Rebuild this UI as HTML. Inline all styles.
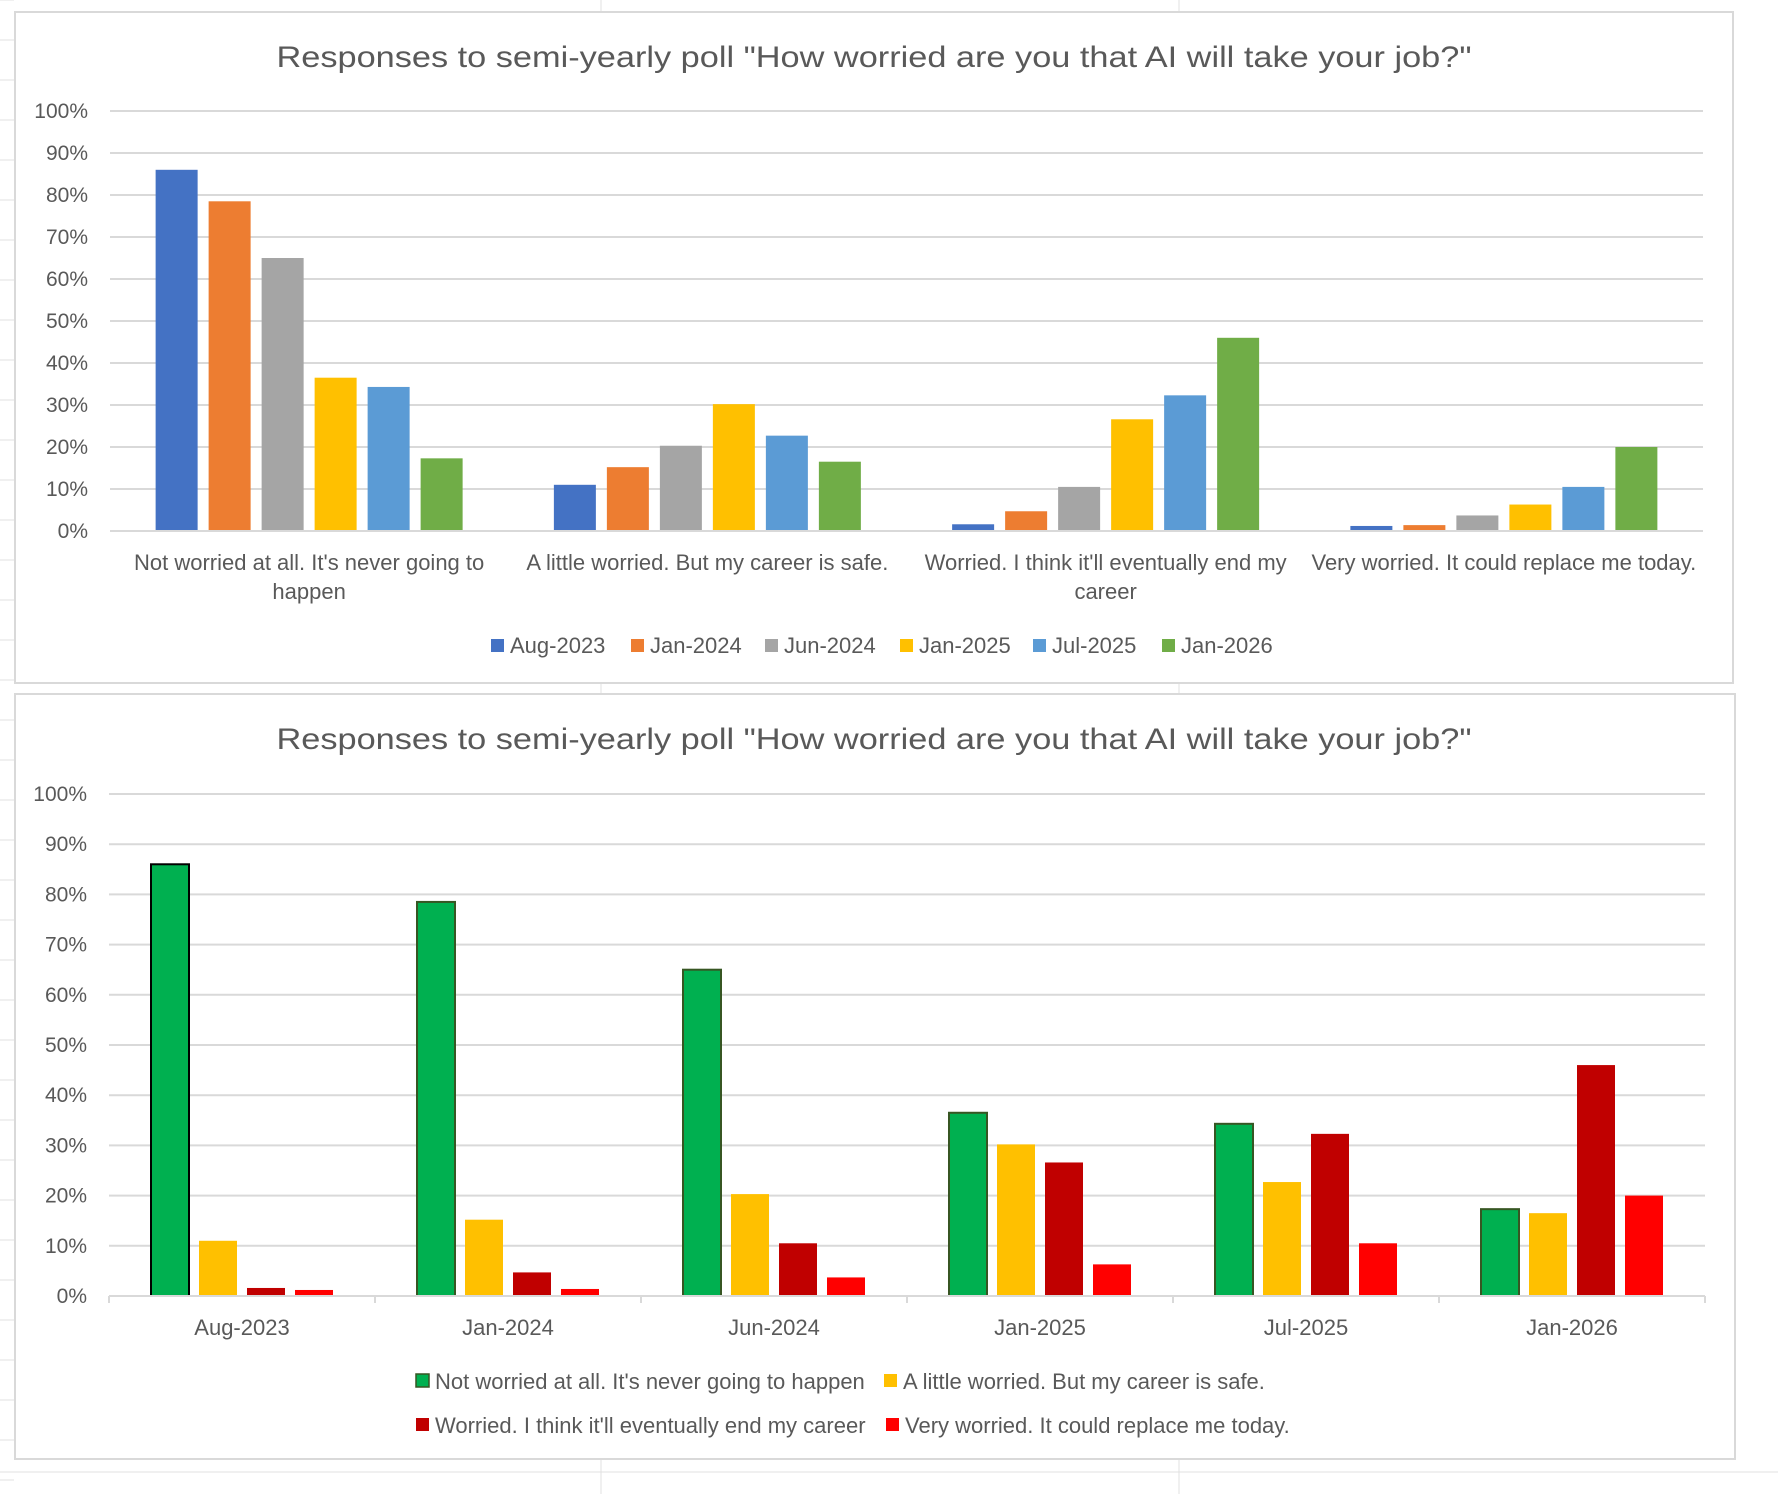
<!DOCTYPE html>
<html><head><meta charset="utf-8"><style>
html,body{margin:0;padding:0;background:#fff;}
svg{display:block;font-family:"Liberation Sans",sans-serif;}
</style></head><body>
<svg id="s" width="1778" height="1494" viewBox="0 0 1778 1494" xmlns="http://www.w3.org/2000/svg">
<g id="bg"></g>
<rect x="15" y="12" width="1718" height="671" fill="#fff" stroke="#d9d9d9" stroke-width="2"/>
<rect x="15" y="694" width="1720" height="765" fill="#fff" stroke="#d9d9d9" stroke-width="2"/>
<text x="874" y="67" text-anchor="middle" font-size="30" fill="#595959" textLength="1195" lengthAdjust="spacingAndGlyphs">Responses to semi-yearly poll "How worried are you that AI will take your job?"</text>
<text x="874" y="749" text-anchor="middle" font-size="30" fill="#595959" textLength="1195" lengthAdjust="spacingAndGlyphs">Responses to semi-yearly poll "How worried are you that AI will take your job?"</text>
<g id="c1"></g><g id="c2"></g>
</svg>
<script>
const periods = ["Aug-2023","Jan-2024","Jun-2024","Jan-2025","Jul-2025","Jan-2026"];
const answers = ["Not worried at all. It's never going to happen","A little worried. But my career is safe.","Worried. I think it'll eventually end my career","Very worried. It could replace me today."];
const answerLines = [["Not worried at all. It's never going to","happen"],["A little worried. But my career is safe."],["Worried. I think it'll eventually end my","career"],["Very worried. It could replace me today."]];
const notWorried = [86, 78.5, 65, 36.5, 34.3, 17.3];
const littleWorried = [11, 15.2, 20.3, 30.2, 22.7, 16.5];
const worried = [1.6, 4.7, 10.5, 26.6, 32.3, 46];
const veryWorried = [1.2, 1.4, 3.7, 6.3, 10.5, 20];
const yTicks = [0,10,20,30,40,50,60,70,80,90,100];
const yTickLabels = ["0%","10%","20%","30%","40%","50%","60%","70%","80%","90%","100%"];
const series = [notWorried, littleWorried, worried, veryWorried];
const periodColors = ["#4472c4","#ed7d31","#a5a5a5","#ffc000","#5b9bd5","#70ad47"];
const answerColors = ["#00b050","#ffc000","#c00000","#ff0000"];
const NS="http://www.w3.org/2000/svg";
function mk(p,tag,attrs){const e=document.createElementNS(NS,tag);for(const k in attrs)e.setAttribute(k,attrs[k]);p.appendChild(e);return e;}
const bg=document.getElementById('bg');
[601,1179].forEach(x=>{const l=mk(bg,'line',{x1:x,y1:0,x2:x,y2:1494,stroke:'#e1e1e1','stroke-width':1});

});
for(let y=0;y<1494;y+=40){const l=mk(bg,'line',{x1:0,y1:y,x2:14,y2:y,stroke:'#e1e1e1','stroke-width':1});

}
[1472].forEach(y=>{const l=mk(bg,'line',{x1:0,y1:y,x2:1778,y2:y,stroke:'#e1e1e1','stroke-width':1});

});

function axes(g,left,right,top,bottom,prefix){
  const ys=v=>bottom-(v/100)*(bottom-top);
  yTicks.forEach((v,i)=>{
    const l=mk(g,'line',{x1:left,x2:right,y1:ys(v),y2:ys(v),stroke:'#d9d9d9','stroke-width':2});
    
    
    const t=mk(g,'text',{x:left-22,y:ys(v)+7,'text-anchor':'end','font-size':21,fill:'#595959'});
    t.textContent=yTickLabels[i];
    
    
  });
  return ys;
}
(function(){
  const g=document.getElementById('c1');
  const left=110,right=1703,top=111,bottom=531;
  const ys=axes(g,left,right,top,bottom,'chart1');
  const gw=(right-left)/answers.length, bw=42, step=53;
  const off=(gw-((periods.length-1)*step+bw))/2;
  answers.forEach((a,ci)=>{
    periods.forEach((p,pi)=>{
      const v=series[ci][pi];
      const x=left+ci*gw+off+pi*step;
      const r=mk(g,'rect',{x:x,y:ys(v),width:bw,height:bottom-ys(v),fill:periodColors[pi]});
      
      
    });
    answerLines[ci].forEach((ln,li)=>{
      const t=mk(g,'text',{x:left+ci*gw+gw/2,y:570+li*29,'text-anchor':'middle','font-size':22,fill:'#595959'});
      t.textContent=ln;
      
      
    });
  });
  const base=mk(g,'line',{x1:left,x2:right,y1:bottom,y2:bottom,stroke:'#d9d9d9','stroke-width':2});
  
  
  const lx=[491,631,765,900,1033,1162];
  periods.forEach((p,i)=>{
    const m=mk(g,'rect',{x:lx[i],y:639,width:13,height:13,fill:periodColors[i]});
    
    
    const t=mk(g,'text',{x:lx[i]+19,y:653,'font-size':22,fill:'#595959'});
    t.textContent=p;
    
    
  });
})();
(function(){
  const g=document.getElementById('c2');
  const left=109,right=1705,top=794,bottom=1296;
  const ys=axes(g,left,right,top,bottom,'chart2');
  const gw=(right-left)/periods.length, bw=38, step=48;
  const off=(gw-((answers.length-1)*step+bw))/2;
  periods.forEach((p,pi)=>{
    answers.forEach((a,ci)=>{
      const v=series[ci][pi];
      const x=left+pi*gw+off+ci*step;
      const attrs={x:x,y:ys(v),width:bw,height:bottom-ys(v),fill:answerColors[ci]};
      if(ci===0){attrs.stroke=pi===0?'#000':'#375623';attrs['stroke-width']=2;}
      const r=mk(g,'rect',attrs);
      
      
    });
    const t=mk(g,'text',{x:left+pi*gw+gw/2,y:1335,'text-anchor':'middle','font-size':22,fill:'#595959'});
    t.textContent=p;
    
    
  });
  const base=mk(g,'line',{x1:left,x2:right,y1:bottom,y2:bottom,stroke:'#d9d9d9','stroke-width':2});
  
  
  for(let i=0;i<=periods.length;i++){
    const tk=mk(g,'line',{x1:left+i*gw,x2:left+i*gw,y1:bottom,y2:bottom+7,stroke:'#d9d9d9','stroke-width':2});
    
    
  }
  const lpos=[[416,1381],[884,1381],[416,1425],[886,1425]];
  answers.forEach((a,i)=>{
    const attrs={x:lpos[i][0],y:lpos[i][1]-7,width:13,height:13,fill:answerColors[i]};
    if(i===0){attrs.stroke='#375623';attrs['stroke-width']=1.5;}
    const m=mk(g,'rect',attrs);
    
    
    const t=mk(g,'text',{x:lpos[i][0]+19,y:lpos[i][1]+8,'font-size':22,fill:'#595959'});
    t.textContent=a;
    
    
  });
})();
</script>
</body></html>
